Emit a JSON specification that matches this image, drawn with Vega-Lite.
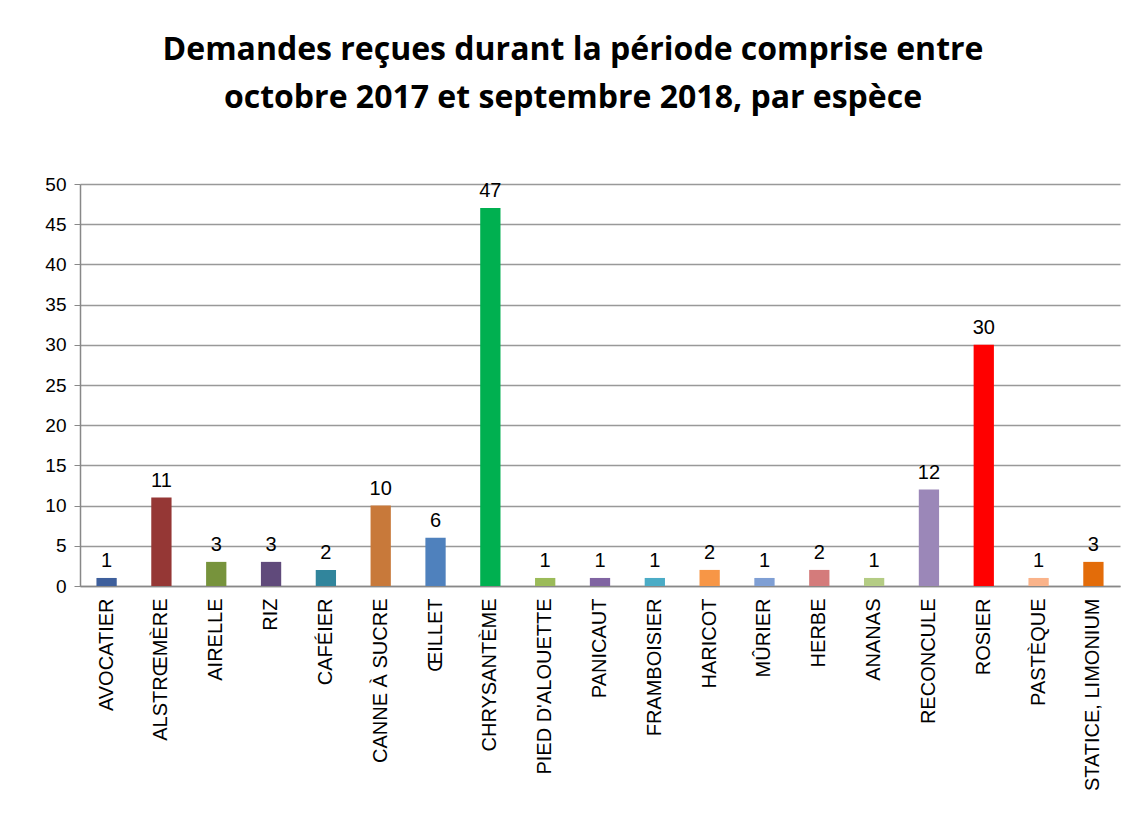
{
  "$schema": "https://vega.github.io/schema/vega-lite/v6.json",
  "autosize": "none",
  "width": 1040,
  "height": 402,
  "padding": {"left": 80, "top": 184, "right": 27, "bottom": 230},
  "background": "white",
  "title": {
    "text": ["Demandes reçues durant la période comprise entre", "octobre 2017 et septembre 2018, par  espèce"],
    "font": "Open Sans",
    "fontSize": 32,
    "fontWeight": "bold",
    "color": "#000000",
    "lineHeight": 48,
    "anchor": "middle",
    "dx": -27,
    "offset": 60
  },
  "data": {
    "values": [
      {"espece": "AVOCATIER", "n": 1, "c": "#3E5F9C"},
      {"espece": "ALSTRŒMÈRE", "n": 11, "c": "#953735"},
      {"espece": "AIRELLE", "n": 3, "c": "#77933C"},
      {"espece": "RIZ", "n": 3, "c": "#604A7B"},
      {"espece": "CAFÉIER", "n": 2, "c": "#31859C"},
      {"espece": "CANNE À SUCRE", "n": 10, "c": "#C8793A"},
      {"espece": "ŒILLET", "n": 6, "c": "#4F81BD"},
      {"espece": "CHRYSANTÈME", "n": 47, "c": "#00B050"},
      {"espece": "PIED D'ALOUETTE", "n": 1, "c": "#9BBB59"},
      {"espece": "PANICAUT", "n": 1, "c": "#8064A2"},
      {"espece": "FRAMBOISIER", "n": 1, "c": "#4BACC6"},
      {"espece": "HARICOT", "n": 2, "c": "#F79646"},
      {"espece": "MÛRIER", "n": 1, "c": "#7F9FD4"},
      {"espece": "HERBE", "n": 2, "c": "#D47B7B"},
      {"espece": "ANANAS", "n": 1, "c": "#B4CC84"},
      {"espece": "RECONCULE", "n": 12, "c": "#9B87B8"},
      {"espece": "ROSIER", "n": 30, "c": "#FF0000"},
      {"espece": "PASTÈQUE", "n": 1, "c": "#FAB38A"},
      {"espece": "STATICE, LIMONIUM", "n": 3, "c": "#E36C09"}
    ]
  },
  "encoding": {
    "x": {
      "field": "espece",
      "type": "nominal",
      "sort": null,
      "title": null,
      "scale": {"paddingInner": 0.63, "paddingOuter": 0.3},
      "axis": {
        "labelAngle": -90,
        "labelFont": "Liberation Sans",
        "labelFontSize": 20,
        "labelColor": "#000000",
        "labelPadding": 12,
        "labelLimit": 300,
        "ticks": false,
        "domainColor": "#888888",
        "domainWidth": 1.5
      }
    },
    "y": {
      "field": "n",
      "type": "quantitative",
      "title": null,
      "scale": {"domain": [0, 50], "nice": false},
      "axis": {
        "values": [0, 5, 10, 15, 20, 25, 30, 35, 40, 45, 50],
        "labelFont": "Liberation Sans",
        "labelFontSize": 19,
        "labelColor": "#000000",
        "labelPadding": 8,
        "tickSize": 6,
        "tickColor": "#888888",
        "domainColor": "#888888",
        "domainWidth": 1.5,
        "gridColor": "#999999",
        "gridWidth": 1.5
      }
    }
  },
  "layer": [
    {
      "mark": {"type": "bar"},
      "encoding": {"color": {"field": "c", "type": "nominal", "scale": null}}
    },
    {
      "mark": {"type": "text", "dy": -17, "font": "Liberation Sans", "fontSize": 20, "color": "#000000"},
      "encoding": {"text": {"field": "n", "type": "quantitative"}}
    }
  ],
  "config": {"view": {"stroke": null}}
}
